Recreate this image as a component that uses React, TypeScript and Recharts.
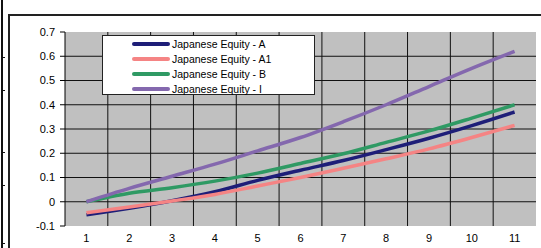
import { LineChart, Line, XAxis, YAxis, CartesianGrid, Legend } from "recharts";

// periods along the x axis
const periods = [1, 2, 3, 4, 5, 6, 7, 8, 9, 10, 11];

// cumulative values
const equityA = [-0.054, -0.027, 0.004, 0.041, 0.088, 0.13, 0.17, 0.215, 0.262, 0.314, 0.37];
const equityA1 = [-0.045, -0.022, 0.003, 0.03, 0.065, 0.1, 0.138, 0.177, 0.218, 0.265, 0.315];
const equityB = [0, 0.035, 0.058, 0.085, 0.118, 0.158, 0.198, 0.245, 0.292, 0.345, 0.4];
const equityI = [0, 0.055, 0.105, 0.155, 0.21, 0.265, 0.33, 0.4, 0.475, 0.55, 0.62];

const yTicks = [-0.1, 0, 0.1, 0.2, 0.3, 0.4, 0.5, 0.6, 0.7];
const gridValues = [0, 0.1, 0.2, 0.3, 0.4, 0.5, 0.6];

const series = [
  { key: "a", name: "Japanese Equity - A", color: "#1e1e78" },
  { key: "a1", name: "Japanese Equity - A1", color: "#f58484" },
  { key: "b", name: "Japanese Equity - B", color: "#2f9a64" },
  { key: "i", name: "Japanese Equity - I", color: "#8468ae" },
];

const data = periods.map((p, i) => ({
  period: p,
  a: equityA[i],
  a1: equityA1[i],
  b: equityB[i],
  i: equityI[i],
}));

// vertical gridlines sit between categories
const boundaries = periods.slice(0, -1).map((p) => p + 0.5);

const font = "'Liberation Sans', Arial, sans-serif";

function LegendBox() {
  return (
    <div
      style={{
        width: 211,
        height: 58,
        background: "#fff",
        border: "1px solid #222",
        fontFamily: font,
        fontSize: 10.5,
        color: "#000",
        boxSizing: "content-box",
      }}
    >
      {series.map((s) => (
        <div key={s.key} style={{ display: "flex", alignItems: "center", height: 15 }}>
          <div style={{ width: 38, height: 4, borderRadius: 2, background: s.color, marginLeft: 29, marginRight: 2 }} />
          <span>{s.name}</span>
        </div>
      ))}
    </div>
  );
}

export default function App() {
  return (
    <div style={{ position: "fixed", left: 0, top: 0, width: 541, height: 248, background: "#fff", overflow: "hidden" }}>
      {/* sheet borders */}
      <div style={{ position: "absolute", left: 1, top: 0, width: 2, height: 248, background: "#111" }} />
      {[57, 90, 152, 185, 243].map((y) => (
        <div key={y} style={{ position: "absolute", left: 3, top: y, width: 2, height: 1, background: "#111" }} />
      ))}
      <div style={{ position: "absolute", left: 8, top: 14, width: 533, height: 1.5, background: "#222" }} />
      <div style={{ position: "absolute", left: 8, top: 14, width: 1.5, height: 234, background: "#222" }} />

      <div style={{ position: "absolute", left: 0, top: 0 }}>
        <LineChart width={541} height={248} data={data} margin={{ top: 32, right: 5, bottom: 0, left: 8 }}>
          <CartesianGrid
            fill="#c0c0c0"
            fillOpacity={1}
            stroke="#111"
            strokeWidth={1}
            horizontalValues={gridValues}
            verticalValues={boundaries}
          />
          <XAxis
            type="number"
            dataKey="period"
            domain={[0.5, 11.5]}
            ticks={periods}
            interval={0}
            axisLine={false}
            tickLine={false}
            tickSize={0}
            tickMargin={8}
            height={22}
            tick={{ fill: "#000", fontSize: 11, fontFamily: font }}
          />
          <YAxis
            type="number"
            domain={[-0.1, 0.7]}
            ticks={yTicks}
            interval={0}
            width={57}
            tickSize={5}
            tickMargin={5}
            axisLine={{ stroke: "#000" }}
            tickLine={{ stroke: "#000" }}
            tickFormatter={(v: number) => String(Math.round(v * 10) / 10)}
            tick={{ fill: "#000", fontSize: 11, fontFamily: font }}
          />
          {series.map((s) => (
            <Line
              key={s.key}
              type="monotone"
              dataKey={s.key}
              name={s.name}
              stroke={s.color}
              strokeWidth={3.5}
              dot={false}
              isAnimationActive={false}
            />
          ))}
          <Legend
            layout="vertical"
            align="center"
            verticalAlign="middle"
            content={() => <LegendBox />}
            wrapperStyle={{ left: 102, top: 35, width: 213 }}
          />
        </LineChart>
      </div>
    </div>
  );
}
